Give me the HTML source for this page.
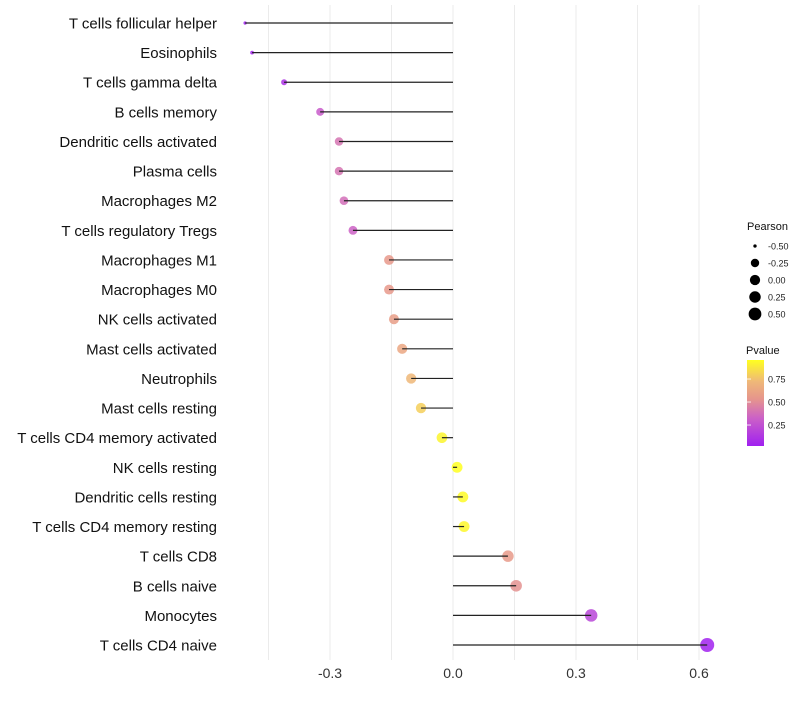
<!DOCTYPE html>
<html><head><meta charset="utf-8"><style>
body{margin:0;background:#fff;font-family:"Liberation Sans",sans-serif}
svg text{font-family:"Liberation Sans",sans-serif}
</style></head><body>
<svg id="c" width="800" height="700">
<defs><linearGradient id="pg" x1="0" y1="1" x2="0" y2="0">
<stop offset="0" stop-color="#a020f0"/><stop offset="0.33" stop-color="#cc62c6"/><stop offset="0.55" stop-color="#e6968c"/><stop offset="0.75" stop-color="#efb878"/><stop offset="1" stop-color="#ffff20"/></linearGradient></defs>
</svg>
<script>
const categories=["T cells follicular helper","Eosinophils","T cells gamma delta","B cells memory","Dendritic cells activated","Plasma cells","Macrophages M2","T cells regulatory  Tregs ","Macrophages M1","Macrophages M0","NK cells activated","Mast cells activated","Neutrophils","Mast cells resting","T cells CD4 memory activated","NK cells resting","Dendritic cells resting","T cells CD4 memory resting","T cells CD8","B cells naive","Monocytes","T cells CD4 naive"];
const pearson=[-0.507,-0.49,-0.412,-0.324,-0.278,-0.278,-0.266,-0.244,-0.156,-0.156,-0.144,-0.124,-0.102,-0.078,-0.027,0.01,0.024,0.027,0.134,0.154,0.337,0.62];
const pvalue=[0.02,0.05,0.1,0.3,0.4,0.4,0.38,0.33,0.55,0.55,0.58,0.63,0.72,0.8,0.92,0.96,0.94,0.93,0.56,0.52,0.2,0.03];
const xTicks=[-0.3,0,0.3,0.6];
const xTickLabels=["-0.3","0.0","0.3","0.6"];
const sizeLegend=[-0.5,-0.25,0,0.25,0.5];
const sizeLegendLabels=["-0.50","-0.25","0.00","0.25","0.50"];
const pLegend=[0.25,0.5,0.75];
const pLegendLabels=["0.25","0.50","0.75"];

const NS="http://www.w3.org/2000/svg",svg=document.getElementById('c');
const x=v=>453+v*410;
const y=i=>23+i*29.62;
const rCtl=[[-0.52,1.5],[-0.41,3],[-0.32,4],[-0.15,5],[0.35,6.3],[0.65,7.1]];
function rad(v){if(v<=rCtl[0][0])return rCtl[0][1];for(let k=1;k<rCtl.length;k++){if(v<=rCtl[k][0]){const a=rCtl[k-1],b=rCtl[k];return a[1]+(b[1]-a[1])*(v-a[0])/(b[0]-a[0]);}}return rCtl[rCtl.length-1][1];}
const stops=[[0,[160,32,240]],[0.33,[204,98,198]],[0.55,[230,150,140]],[0.75,[239,184,120]],[1,[255,255,32]]];
function col(p){let t=(p-0.022)/(0.957-0.022);t=Math.max(0,Math.min(1,t));
for(let k=1;k<stops.length;k++){if(t<=stops[k][0]){const a=stops[k-1],b=stops[k],f=(t-a[0])/(b[0]-a[0]);return 'rgb('+a[1].map((c,j)=>Math.round(c+(b[1][j]-c)*f)).join(',')+')';}}return 'rgb(255,255,32)';}
function el(t,a,txt){const e=document.createElementNS(NS,t);for(const k in a)e.setAttribute(k,a[k]);if(txt!==undefined)e.textContent=txt;svg.appendChild(e);return e;}
for(let v=-0.45;v<=0.61;v+=0.15){const g=el('line',{x1:x(v),x2:x(v),y1:5,y2:660,stroke:'#ebebeb','stroke-width':1});

}
xTicks.forEach((v,i)=>{const t=el('text',{x:x(v),y:678,'text-anchor':'middle','font-size':14,fill:'#333'},xTickLabels[i]);

});
categories.forEach((c,i)=>{
const t=el('text',{x:217,y:y(i)+5.5,'text-anchor':'end','font-size':15,fill:'#111','xml:space':'preserve'},c);


const p=el('circle',{cx:x(pearson[i]),cy:y(i),r:rad(pearson[i]),fill:col(pvalue[i]),'fill-opacity':0.85});


const l=el('line',{x1:x(0),x2:x(pearson[i]),y1:y(i),y2:y(i),stroke:'#222','stroke-width':1.2});


});
const lt=el('text',{x:747,y:230,'font-size':11,fill:'#111'},'Pearson');


sizeLegend.forEach((v,i)=>{const cy=246+i*17;
const d=el('circle',{cx:755,cy:cy,r:rad(v)*0.95,fill:'#000'});


const t=el('text',{x:768,y:cy+3.5,'font-size':9,fill:'#222'},sizeLegendLabels[i]);

});
const pt=el('text',{x:746,y:354,'font-size':11,fill:'#111'},'Pvalue');


const bar=el('rect',{x:747,y:360,width:17,height:86,fill:'url(#pg)'});


const py=v=>446-(v-0.022)*92;
pLegend.forEach((v,i)=>{
const tk=el('line',{x1:747,x2:751,y1:py(v),y2:py(v),stroke:'#fff','stroke-width':0.8});


const t=el('text',{x:768,y:py(v)+3.5,'font-size':9,fill:'#222'},pLegendLabels[i]);

});
</script>
</body></html>
